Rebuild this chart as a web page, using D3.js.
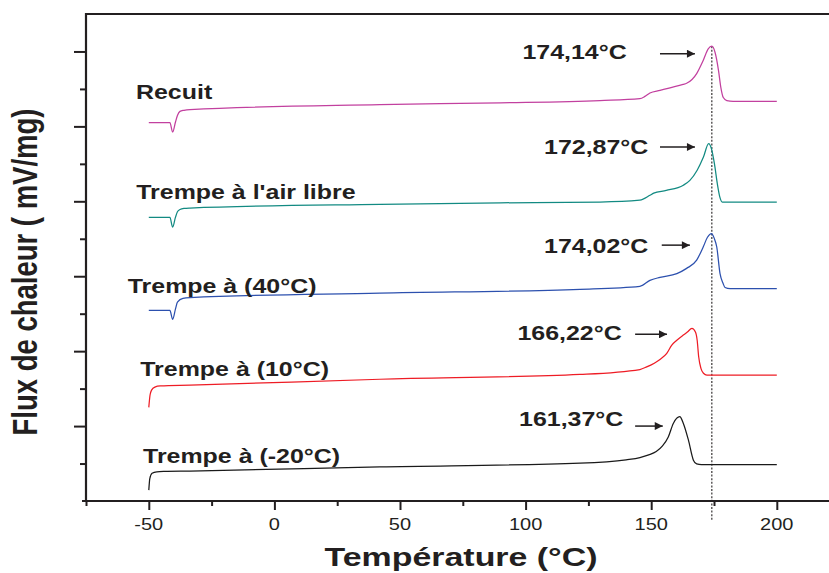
<!DOCTYPE html>
<html>
<head>
<meta charset="utf-8">
<script src="https://cdn.jsdelivr.net/npm/d3@7"></script>
<style>
  html, body { margin: 0; padding: 0; background: #fff; }
  svg { display: block; }
</style>
</head>
<body>
<svg id="chart" width="829" height="573"></svg>
<script>
// DSC thermograms: heat flux vs temperature, curves stacked with vertical offsets.
const seriesNames = ["Recuit", "Trempe à l'air libre", "Trempe à (40°C)", "Trempe à (10°C)", "Trempe à (-20°C)"];
const seriesColors = ["#c2409f", "#128a82", "#2c50ae", "#ee1c25", "#1a1a1a"];

// [temperature °C, heat flux (offset, mV/mg)]
const recuit = [
  [-50, 10.10], [-41.6, 10.10], [-40.5, 9.85], [-39.4, 10.11], [-38.6, 10.29], [-37.6, 10.40],
  [-36, 10.43], [-33.6, 10.45], [42, 10.58], [90, 10.63], [129.6, 10.69], [145.5, 10.74],
  [147.5, 10.80], [149.5, 10.89], [153.5, 10.96], [157.5, 11.03], [162.7, 11.12], [164.1, 11.15],
  [168.1, 11.41], [170.7, 11.76], [172.7, 12.07], [174.14, 12.14], [175.4, 11.98], [176.8, 11.49],
  [177.7, 11.05], [178.7, 10.77], [180.1, 10.69], [182.6, 10.67], [200, 10.67]
];
const airLibre = [
  [-50, 7.57], [-41.6, 7.57], [-40.5, 7.31], [-39.4, 7.57], [-38.6, 7.72], [-37.6, 7.78],
  [-36, 7.81], [-33.6, 7.82], [42, 7.92], [90, 7.96], [129.6, 7.98], [145.5, 8.03],
  [149.5, 8.16], [151, 8.22], [156, 8.29], [162.8, 8.43], [165.4, 8.56], [168.3, 8.83],
  [170.8, 9.18], [172.87, 9.54], [174.0, 9.40], [175.2, 8.99], [176.3, 8.48], [177.3, 8.12],
  [178.3, 7.98], [180, 7.98], [200, 7.98]
];
const trempe40 = [
  [-50, 5.09], [-41.6, 5.09], [-40.5, 4.85], [-39.4, 5.12], [-38.6, 5.31], [-36.4, 5.41],
  [-33.6, 5.43], [42, 5.55], [121.7, 5.65], [145.5, 5.73], [149.5, 5.89], [153.5, 5.97],
  [160.2, 6.07], [164.1, 6.21], [168.1, 6.43], [170.7, 6.78], [172.4, 7.04], [174.02, 7.14],
  [175.1, 7.01], [176.1, 6.78], [177.4, 6.07], [178.6, 5.81], [179.4, 5.70], [181.4, 5.67], [200, 5.67]
];
const trempe10 = [
  [-50, 2.50], [-49.5, 2.83], [-48.9, 2.96], [-47.6, 3.04], [-45.4, 3.07], [-33.6, 3.09],
  [42, 3.25], [121.7, 3.38], [145.5, 3.51], [148.2, 3.58], [153.5, 3.78], [156.2, 3.94],
  [158.2, 4.16], [160.2, 4.29], [162.8, 4.43], [164.4, 4.51], [166.22, 4.61], [167.6, 4.51],
  [168.3, 4.29], [168.9, 3.85], [169.8, 3.54], [170.8, 3.41], [172.2, 3.36], [200, 3.36]
];
const trempeMoins20 = [
  [-50, 0.29], [-49.6, 0.60], [-48.7, 0.74], [-46.8, 0.78], [-44, 0.79], [-33.6, 0.80],
  [42, 0.91], [121.7, 1.01], [140, 1.10], [145.5, 1.16], [149, 1.23], [152, 1.32],
  [154.5, 1.47], [156.8, 1.71], [158.8, 2.07], [161.37, 2.25], [162.8, 2.07], [164.8, 1.63],
  [166.8, 1.09], [168.1, 0.99], [170, 0.97], [200, 0.97]
];
const seriesData = [recuit, airLibre, trempe40, trempe10, trempeMoins20];

// Melting peak temperatures shown next to each curve
const peakTemps = [174.14, 172.87, 174.02, 166.22, 161.37];

// Axis ticks
const xMajorTicks = [-50, 0, 50, 100, 150, 200];
const xMinorTicks = [-75, -25, 25, 75, 125, 175];
const yMajorTicks = [2, 4, 6, 8, 10, 12];
const yMinorTicks = [1, 3, 5, 7, 9, 11];

// ---- layout ----
const W = 829, H = 573;
const x = d3.scaleLinear().domain([-75, 225]).range([86, 839.6]);
const y = d3.scaleLinear().domain([0, 13]).range([501, 14]);
const STRETCH = 1.28;
const FONT = "'Liberation Sans', Arial, Helvetica, sans-serif";
const INK = "#231f20";

const svg = d3.select("#chart");

// horizontally stretched text helper
function label(g, text, px, py, opts) {
  return g.append("text")
    .attr("transform", `translate(${px},${py}) scale(${opts.sx || STRETCH},1)` + (opts.rotate ? ` rotate(${opts.rotate})` : ""))
    .attr("text-anchor", opts.anchor || "start")
    .attr("font-family", FONT)
    .attr("font-size", opts.size)
    .attr("font-weight", opts.weight || "bold")
    .attr("fill", INK)
    .text(text);
}

// frame lines (top, left, bottom)
const frame = svg.append("g").attr("stroke", INK).attr("stroke-width", 2.2).attr("fill", "none");
frame.append("line").attr("x1", x(-75)).attr("x2", W).attr("y1", y(13)).attr("y2", y(13));
frame.append("line").attr("x1", x(-75)).attr("x2", x(-75)).attr("y1", y(13) - 1).attr("y2", y(0));
frame.append("line").attr("x1", x(-75) - 4).attr("x2", W).attr("y1", y(0)).attr("y2", y(0));

// axes (ticks only, labels drawn as stretched text)
function styleAxis(g) {
  g.select(".domain").remove();
  g.selectAll(".tick line").attr("stroke", INK).attr("stroke-width", 2);
  g.selectAll(".tick text").remove();
}
svg.append("g").attr("transform", `translate(0,${y(0)})`)
  .call(d3.axisBottom(x).tickValues(xMajorTicks).tickSize(9)).call(styleAxis);
svg.append("g").attr("transform", `translate(0,${y(0)})`)
  .call(d3.axisBottom(x).tickValues(xMinorTicks).tickSize(5)).call(styleAxis);
svg.append("g").attr("transform", `translate(${x(-75)},0)`)
  .call(d3.axisLeft(y).tickValues(yMajorTicks).tickSize(12)).call(styleAxis);
svg.append("g").attr("transform", `translate(${x(-75)},0)`)
  .call(d3.axisLeft(y).tickValues(yMinorTicks).tickSize(6)).call(styleAxis);

const tickLabels = svg.append("g");
xMajorTicks.forEach(v => label(tickLabels, String(v), x(v), 530, { size: 16, weight: "normal", anchor: "middle", sx: 1.25 }));

// axis titles
label(svg, "Température (°C)", 461, 566, { size: 26.5, anchor: "middle" });
label(svg, "Flux de chaleur ( mV/mg)", 37, 272, { size: 27.5, anchor: "middle", rotate: -90 });

// dotted reference line at the annealed sample's melting peak
svg.append("line")
  .attr("x1", x(peakTemps[0])).attr("x2", x(peakTemps[0]))
  .attr("y1", y(12.14)).attr("y2", 520)
  .attr("stroke", INK).attr("stroke-width", 1.1).attr("stroke-dasharray", "2,1.6");

// curves
const line = d3.line().x(d => x(d[0])).y(d => y(d[1])).curve(d3.curveMonotoneX);
svg.append("g").selectAll("path").data(seriesData).join("path")
  .attr("d", line)
  .attr("fill", "none")
  .attr("stroke", (d, i) => seriesColors[i])
  .attr("stroke-width", 1.25)
  .attr("stroke-linejoin", "round");

// series names
const nameAnchors = [[-55.1, 10.72], [-55, 8.07], [-58.4, 5.55], [-53.4, 3.33], [-52.3, 1.01]];
const names = svg.append("g");
seriesNames.forEach((n, i) => label(names, n, x(nameAnchors[i][0]), y(nameAnchors[i][1]), { size: 19.5 }));

// peak temperature annotations with arrows
const peakLabelAnchors = [[140.25, 11.80], [148.85, 9.27], [148.85, 6.61], [138.25, 4.29], [138.9, 2.0]];
const arrows = [
  [153.5, 167.4, 11.94], [153.5, 167.4, 9.45], [154.2, 165.4, 6.83], [143.6, 156.3, 4.45], [143.6, 154.6, 2.0]
];
svg.append("defs").append("marker")
  .attr("id", "head").attr("viewBox", "0 0 10 10").attr("refX", 10).attr("refY", 5)
  .attr("markerWidth", 13).attr("markerHeight", 8).attr("markerUnits", "userSpaceOnUse")
  .attr("orient", "auto")
  .append("path").attr("d", "M0,0 L10,5 L0,10 Z").attr("fill", INK);

const ann = svg.append("g");
peakTemps.forEach((t, i) => {
  const txt = t.toFixed(2).replace(".", ",") + "°C";
  label(ann, txt, x(peakLabelAnchors[i][0]), y(peakLabelAnchors[i][1]), { size: 19.5, anchor: "end" });
  const a = arrows[i];
  ann.append("line")
    .attr("x1", x(a[0])).attr("x2", x(a[1]))
    .attr("y1", y(a[2])).attr("y2", y(a[2]))
    .attr("stroke", INK).attr("stroke-width", 1.5)
    .attr("marker-end", "url(#head)");
});
</script>
</body>
</html>
